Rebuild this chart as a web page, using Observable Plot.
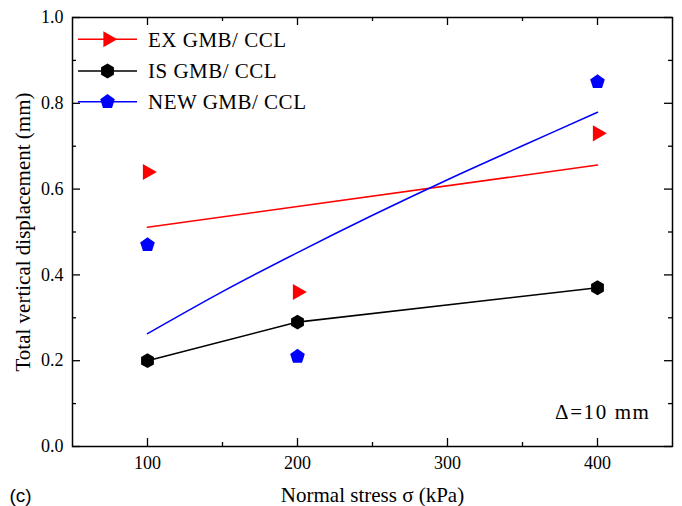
<!DOCTYPE html>
<html>
<head>
<meta charset="utf-8">
<script src="https://cdn.jsdelivr.net/npm/d3@7"></script>
<script src="https://cdn.jsdelivr.net/npm/@observablehq/plot@0.6"></script>
<style>
  html, body { margin: 0; padding: 0; background: #fff; }
  #wrap { position: relative; width: 682px; height: 506px; }
  #wrap svg { position: absolute; left: 0; top: 0; }
</style>
</head>
<body>
<div id="wrap"></div>
<script>
// ---- data ----
const stress = [100, 200, 400];
const exValues = [0.64, 0.36, 0.73];
const isValues = [0.20, 0.29, 0.37];
const newValues = [0.47, 0.21, 0.85];
const exFitStress = [100, 400];
const exFitValues = [0.511, 0.656];
const newFitStress = [100, 150, 200, 250, 300, 350, 400];
const newFitValues = [0.263, 0.361, 0.452, 0.539, 0.622, 0.701, 0.779];
const seriesNames = ["EX GMB/ CCL", "IS GMB/ CCL", "NEW GMB/ CCL"];
const seriesColors = ["#ff0000", "#000000", "#0000ff"];
const xTicks = [100, 200, 300, 400];
const xMinorTicks = [150, 250, 350];
const yTicks = [0, 0.2, 0.4, 0.6, 0.8, 1.0];
const yMinorTicks = [0.1, 0.3, 0.5, 0.7, 0.9];

// ---- custom symbols ----
function poly(context, R, n, rot) {
  for (let i = 0; i < n; i++) {
    const a = rot + i * 2 * Math.PI / n;
    const px = R * Math.cos(a), py = R * Math.sin(a);
    if (i === 0) context.moveTo(px, py); else context.lineTo(px, py);
  }
  context.closePath();
}
const triRight = {draw(c, size) { const R = Math.sqrt(size / Math.PI); poly(c, R, 3, 0); }};
const hexagon = {draw(c, size) { const R = Math.sqrt(size / Math.PI); poly(c, R, 6, -Math.PI / 2); }};
const pentagon = {draw(c, size) { const R = Math.sqrt(size / Math.PI); poly(c, R, 5, -Math.PI / 2); }};
const symbols = [triRight, hexagon, pentagon];
const symbolR = [9.3, 7.4, 7.7];

const toRows = (xs, ys) => xs.map((x, i) => ({stress: x, value: ys[i]}));
const exRows = toRows(stress, exValues);
const isRows = toRows(stress, isValues);
const newRows = toRows(stress, newValues);
const exFitRows = toRows(exFitStress, exFitValues);
const newFitRows = toRows(newFitStress, newFitValues);

const serif = "'Liberation Serif', 'Times New Roman', serif";
const sans = "'Liberation Sans', Arial, sans-serif";

const W = 682, H = 506, ML = 72, MR = 10, MT = 17, MB = 60;
const PW = W - ML - MR, PH = H - MT - MB;
const major = 8, minor = 4;
const id = d => d;

const chart = Plot.plot({
  width: W,
  height: H,
  marginLeft: ML,
  marginRight: MR,
  marginTop: MT,
  marginBottom: MB,
  style: {fontFamily: serif, fontSize: "18px", color: "#000", background: "#fff", overflow: "visible"},
  x: {domain: [50, 450], label: null},
  y: {domain: [0, 1], label: null},
  marks: [
    // tick labels
    Plot.axisX({anchor: "bottom", ticks: xTicks, tickSize: 0, tickPadding: 10, label: null, fontSize: 18}),
    Plot.axisY({anchor: "left", ticks: yTicks, tickSize: 0, tickPadding: 9, tickFormat: d3.format(".1f"), label: null, fontSize: 18}),
    // inward ticks
    Plot.tickX(xTicks, {x: id, insetTop: PH - major, strokeWidth: 1.3}),
    Plot.tickX(xMinorTicks, {x: id, insetTop: PH - minor, strokeWidth: 1.3}),
    Plot.tickX(xTicks, {x: id, insetBottom: PH - major, strokeWidth: 1.3}),
    Plot.tickX(xMinorTicks, {x: id, insetBottom: PH - minor, strokeWidth: 1.3}),
    Plot.tickY(yTicks, {y: id, insetRight: PW - major, strokeWidth: 1.3}),
    Plot.tickY(yMinorTicks, {y: id, insetRight: PW - minor, strokeWidth: 1.3}),
    Plot.tickY(yTicks, {y: id, insetLeft: PW - major, strokeWidth: 1.3}),
    Plot.tickY(yMinorTicks, {y: id, insetLeft: PW - minor, strokeWidth: 1.3}),
    Plot.frame({stroke: "#000", strokeWidth: 1.5}),
    // fit lines / connecting line
    Plot.line(exFitRows, {x: "stress", y: "value", stroke: seriesColors[0], strokeWidth: 1.6}),
    Plot.line(newFitRows, {x: "stress", y: "value", stroke: seriesColors[2], strokeWidth: 1.6, curve: "catmull-rom"}),
    Plot.line(isRows, {x: "stress", y: "value", stroke: seriesColors[1], strokeWidth: 1.6}),
    // markers
    Plot.dot(exRows, {x: "stress", y: "value", symbol: symbols[0], r: symbolR[0], fill: seriesColors[0], stroke: "none"}),
    Plot.dot(isRows, {x: "stress", y: "value", symbol: symbols[1], r: symbolR[1], fill: seriesColors[1], stroke: "none"}),
    Plot.dot(newRows, {x: "stress", y: "value", symbol: symbols[2], r: symbolR[2], fill: seriesColors[2], stroke: "none"}),
    // annotations and titles
    Plot.text(["Δ=10 mm"], {frameAnchor: "bottom-right", dx: -22, dy: -28, textAnchor: "end", lineAnchor: "bottom", fontSize: 21, className: "delta-note"}),
    Plot.text(["Normal stress σ (kPa)"], {frameAnchor: "bottom", dy: 55, lineAnchor: "bottom", fontSize: 21}),
    Plot.text(["Total vertical displacement (mm)"], {frameAnchor: "left", dx: -57, rotate: -90, textAnchor: "middle", lineAnchor: "top", fontSize: 21}),
    Plot.text(["(c)"], {frameAnchor: "bottom-left", dx: -63, dy: 55, textAnchor: "start", lineAnchor: "bottom", fontSize: 19, fontFamily: sans})
  ]
});

// widen the annotation slightly, as in the reference
d3.select(chart).selectAll(".delta-note text").attr("letter-spacing", "1.6px");

const wrap = document.getElementById("wrap");
wrap.appendChild(chart);

// ---- legend overlay ----
const leg = d3.select(wrap).append("svg")
  .attr("width", W).attr("height", H)
  .style("pointer-events", "none")
  .style("font-family", serif);
const rowY = [39.3, 71, 101.7];
const markerX = [108, 107.5, 107.5];
seriesNames.forEach((name, i) => {
  const g = leg.append("g");
  g.append("line").attr("x1", 78).attr("x2", 137).attr("y1", rowY[i]).attr("y2", rowY[i])
    .attr("stroke", seriesColors[i]).attr("stroke-width", 1.6);
  const p = d3.path();
  symbols[i].draw(p, Math.PI * symbolR[i] * symbolR[i]);
  g.append("path").attr("d", p.toString())
    .attr("transform", `translate(${markerX[i]},${rowY[i]})`)
    .attr("fill", seriesColors[i]);
  g.append("text").attr("x", 148).attr("y", rowY[i] + 7.3)
    .attr("font-size", 21).attr("letter-spacing", "0.5px").attr("fill", "#000").text(name);
});
</script>
</body>
</html>
